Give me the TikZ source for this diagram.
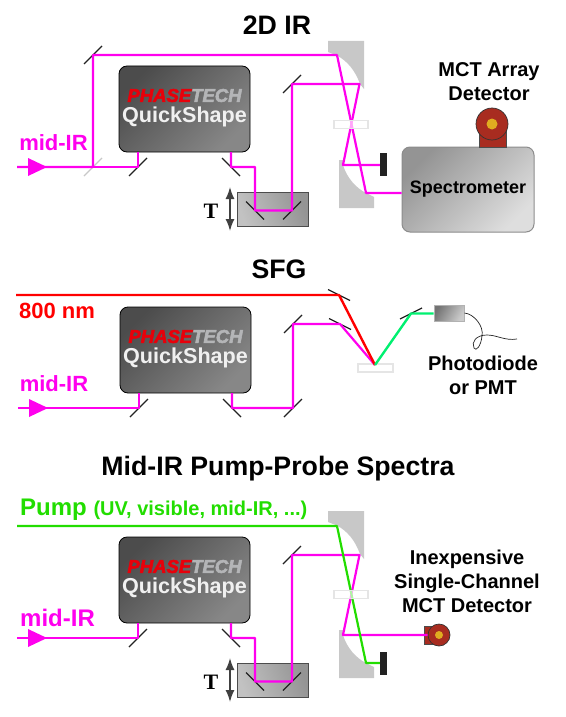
\documentclass[tikz,border=0pt]{standalone}
\usepackage{fontspec}
\setmainfont{Liberation Sans}
\newfontfamily\tfont{Liberation Serif}
\newfontfamily\logofont[FakeBold=3]{Liberation Sans Bold Italic}
\usetikzlibrary{arrows.meta,positioning,calc}
\definecolor{BeamIR}{HTML}{FF00EE}
\definecolor{BeamRed}{HTML}{FF0000}
\definecolor{BeamPump}{HTML}{22DD00}
\definecolor{BeamSig}{HTML}{00F070}
\definecolor{Ink}{HTML}{222222}
\definecolor{OptGrey}{HTML}{C8C8C8}
\definecolor{DetRed}{HTML}{A82C20}
\definecolor{DetGold}{HTML}{E0AC20}
\definecolor{LogoRed}{HTML}{E8000A}
\definecolor{LogoGrey}{HTML}{B4B5B7}

\begin{document}
\begin{tikzpicture}[x=1pt,y=-1pt,every node/.style={font=\bfseries,inner sep=0pt},
irbeam/.style={draw=BeamIR,line width=2.2pt,line join=round},redbeam/.style={draw=BeamRed,line width=2.4pt,line join=round},
pumpbeam/.style={draw=BeamPump,line width=2.2pt,line join=round},sigbeam/.style={draw=BeamSig,line width=2.4pt,line join=round},
mirrorline/.style={draw=Ink,line width=1.3pt},splitter/.style={draw=OptGrey,line width=1.3pt},
qsbox/.style={draw=black,line width=.8pt,rounded corners=8pt,minimum width=131pt,minimum height=86pt,top color=black!70,middle color=black!62,bottom color=black!47,shading angle=45},
stagebox/.style={draw=black!70,line width=1pt,minimum width=71pt,minimum height=34pt,top color=black!42,bottom color=black!24,shading angle=-70},
specbox/.style={draw=black!45,line width=1pt,rounded corners=8pt,minimum width=132pt,minimum height=85pt,top color=black!42,bottom color=black!13,shading angle=45},
samplebox/.style={draw=black!10,line width=1.2pt,fill=white,fill opacity=.65,minimum width=34pt,minimum height=8pt},
blockbox/.style={fill=Ink,minimum width=7pt,minimum height=23pt},
detstem/.style={draw=black!70,line width=.5pt,fill=DetRed},
detdisc/.style={circle,draw=black!80,line width=.7pt,fill=DetRed},
travel/.style={{Latex[length=12pt,width=9pt]}-{Latex[length=12pt,width=9pt]},draw=black!75,line width=1.5pt},
title/.style={font=\fontsize{26.7}{30}\selectfont\bfseries},
label/.style={font=\fontsize{20}{24}\selectfont\bfseries,align=center},
beamtext/.style={font=\fontsize{22}{24}\selectfont\bfseries}]
\useasboundingbox (0,0) rectangle (565,717);
\newcommand{\mirr}[3]{\coordinate (#1) at (#2);\draw[mirrorline] ($(#1)-(#3)$)--($(#1)+(#3)$);}
% shaper box with its two steering mirrors
\newcommand{\qsunit}[1]{
\node[qsbox](#1box) at (184.5,109){};
\node[font=\fontsize{18.5}{20}\logofont](#1logo) at (184.5,95.5){{\color{LogoRed}PHASE}{\color{LogoGrey}TECH}};
\node[font=\fontsize{21.6}{24}\selectfont\bfseries,text=black!6](#1name) at (184.5,117){QuickShape};
\coordinate (#1in) at (17,167);\coordinate (#1up) at (138,152);\coordinate (#1down) at (231,152);
\mirr{#1m1}{138,167}{9,-9}
\mirr{#1m2}{231,167}{9,9}
\fill[BeamIR] (28,158)--(47,167)--(28,176)--cycle;
}
% translation stage, T label and its arrow
\newcommand{\dstage}[1]{
\node[stagebox](#1stage) at (272.5,209){};
\mirr{#1s1}{255,210.5}{9,9}
\mirr{#1s2}{292,210.5}{9,-9}
\coordinate (#1k) at (255,167);
\coordinate (#1ta) at (230,187);\coordinate (#1tb) at (230,231);
\draw[travel] (#1ta)--(#1tb);
\node[font=\fontsize{22}{24}\selectfont\bfseries\tfont](#1t) at (211,211){T};
\mirr{#1m3}{292,84}{9,-9}
}
% pair of off-axis parabolas
\newcommand{\opa}[1]{
\fill[OptGrey] (328,41)--(364,41)--(364,89)--(360,84) .. controls (355,70) and (347,61) .. (337,55.5)--(328,52)--cycle;
\fill[OptGrey] (339,160)--(343,160)--(343,165) .. controls (347,178) and (356,188) .. (366,193)--(374,197)--(374,208)--(339,208)--cycle;
\coordinate (#1p1) at (337,55.5);\coordinate (#1p2) at (359.5,84);\coordinate (#1p3) at (343,165);\coordinate (#1p4) at (366,193);
\coordinate (#1c) at (351,124.5);
}
% --- 2D IR
\node[title](ttwod) at (277,25){2D IR};
\qsunit{a}
\dstage{a}
\opa{a}
\coordinate (abs) at (93,167);
\draw[splitter] ($(abs)+(-9,9)$)--($(abs)+(9,-9)$);
\mirr{atop}{93,55}{9,-9}
\node[blockbox](ablock) at (383.5,164.5){};
\node[specbox](spec) at (468,189.5){};
\node[font=\fontsize{18}{20}\selectfont\bfseries](spectxt) at (468,189){Spectrometer};
\draw[detstem] (479,130) rectangle (506,147);
\node[detdisc,minimum size=32pt](adet) at (492,124){};
\node[circle,fill=DetGold,minimum size=11pt](adetc) at (adet){};
\node[label](adetl) at (489,82){MCT Array\\Detector};
\draw[irbeam] (ain)--(abs)--(atop)--(atop -| ap1)--(ap4)--(spec.west |- ap4);
\draw[irbeam] (abs)--(am1)--(aup);
\draw[irbeam] (adown)--(am2)--(ak)--(as1)--(as2)--(am3)--(ap2)--(ap3)--(ablock.west |- ap3);
\node[samplebox](asam) at (ac){};
\node[beamtext,text=BeamIR](amid) at (53.5,143){mid-IR};
% --- SFG
\node[title](ttsfg) at (279,269){SFG};
\begin{scope}[shift={(1,241)}]
\qsunit{b}
\end{scope}
\mirr{bm3}{293,408}{9,-9}
\mirr{bm4}{293,324}{9,-9}
\mirr{bm5}{340,324}{11,5.5}
\mirr{bm6}{339,295}{11,5.5}
\mirr{bm7}{411,313.5}{11,-5.5}
\coordinate (bred) at (16,295);\coordinate (bspot) at (375,365);
\node[samplebox,minimum width=35pt](bsam) at (375.5,368){};
\node[draw=black!30,line width=1pt,top color=black!55,bottom color=black!20,shading angle=60,minimum width=30pt,minimum height=16pt](bpd) at (449,313){};
\draw[line width=.7pt,draw=Ink] (bpd.east) .. controls (474,314) and (484,326) .. (482,336) .. controls (481,346) and (476,352) .. (474,348) .. controls (471,342) and (476,335) .. (487,335) .. controls (497,335) and (505,341) .. (517,339);
\draw[irbeam] (bin)--(bm1)--(bup);
\draw[irbeam] (bdown)--(bm2)--(bm3)--(bm4)--(bm5)--(bspot);
\draw[redbeam] (bred)--(bm6)--(bspot);
\draw[sigbeam] (bspot)--(bm7)--(bpd.west |- bm7);
\node[beamtext,text=BeamRed](btxt) at (57,311){800 nm};
\node[beamtext,text=BeamIR](bmid) at (54,384){mid-IR};
\node[label](bpdl) at (483,375){Photodiode\\or PMT};
% --- Mid-IR pump-probe
\node[title](ttpp) at (278,469){Mid-IR Pump-Probe Spectra};
\begin{scope}[shift={(0,471)}]
\qsunit{c}
\dstage{c}
\end{scope}
\begin{scope}[shift={(0,470)}]
\opa{c}
\end{scope}
\coordinate (cpump) at (17,526);
\node[blockbox](cblock) at (383.5,663.5){};
\draw[detstem] (424,626) rectangle (440,644);
\node[detdisc,minimum size=22pt](cdet) at (439,635){};
\node[circle,fill=DetGold,minimum size=8pt](cdetc) at (cdet){};
\node[label](cdetl) at (467,581){Inexpensive\\Single-Channel\\MCT Detector};
\draw[irbeam] (cin)--(cm1)--(cup);
\draw[irbeam] (cdown)--(cm2)--(ck)--(cs1)--(cs2)--(cm3)--(cm3 -| cp2)--(cp3)--(cdet.west |- cp3);
\draw[pumpbeam] (cpump)--(cpump -| cp1)--(cp4)--(cblock.west |- cp4);
\node[samplebox](csam) at (cc){};
\node[anchor=west,text=BeamPump,font=\fontsize{24}{26}\selectfont\bfseries](cpl) at (20,510){Pump \fontsize{20}{22}\selectfont(UV, visible, mid-IR, ...)};
\node[anchor=west,font=\fontsize{24}{26}\selectfont\bfseries,text=BeamIR](cmid) at (20,618){mid-IR};
\end{tikzpicture}
\end{document}
